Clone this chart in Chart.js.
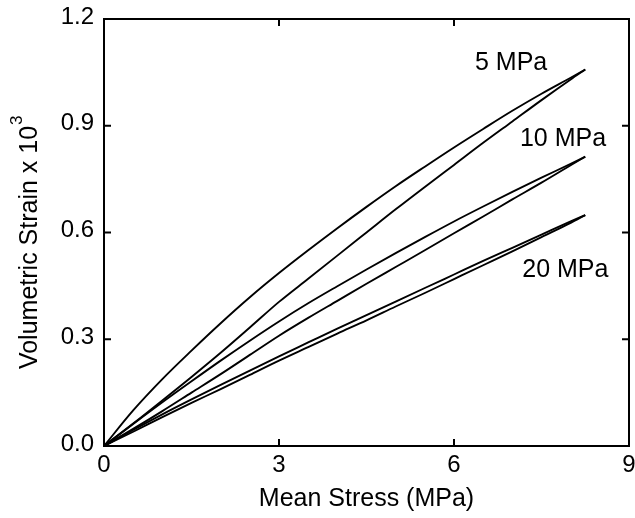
<!DOCTYPE html>
<html>
<head>
<meta charset="utf-8">
<script src="https://cdn.jsdelivr.net/npm/chart.js@4/dist/chart.umd.min.js"></script>
<style>
  html, body { margin: 0; padding: 0; background: #fff; }
  #wrap { width: 635px; height: 518px; position: relative; }
</style>
</head>
<body>
<div id="wrap"><canvas id="strainChart"></canvas></div>
<script>
// Mean stress samples (MPa), shared by every curve
const stress = [0, 0.5, 1, 1.5, 2, 2.5, 3, 3.5, 4, 4.5, 5, 5.5, 6, 6.5, 7, 7.5, 8, 8.25];

// Volumetric strain x 10^3, loading (lower) and unloading (upper) branch for each confining pressure
const load5    = [0, 0.063, 0.128, 0.194, 0.262, 0.333, 0.405, 0.47, 0.535, 0.6, 0.665, 0.728, 0.79, 0.852, 0.912, 0.972, 1.03, 1.058];
const unload5  = [0, 0.1, 0.188, 0.268, 0.345, 0.418, 0.486, 0.55, 0.612, 0.672, 0.73, 0.785, 0.839, 0.891, 0.942, 0.99, 1.035, 1.058];
const load10   = [0, 0.048, 0.098, 0.15, 0.202, 0.256, 0.31, 0.36, 0.408, 0.456, 0.503, 0.55, 0.598, 0.645, 0.693, 0.74, 0.789, 0.813];
const unload10 = [0, 0.062, 0.123, 0.182, 0.24, 0.296, 0.35, 0.401, 0.449, 0.496, 0.542, 0.587, 0.631, 0.673, 0.714, 0.754, 0.793, 0.813];
const load20   = [0, 0.04, 0.081, 0.121, 0.16, 0.2, 0.24, 0.278, 0.316, 0.353, 0.392, 0.43, 0.469, 0.508, 0.547, 0.587, 0.627, 0.649];
const unload20 = [0, 0.045, 0.089, 0.131, 0.172, 0.212, 0.252, 0.291, 0.33, 0.368, 0.406, 0.444, 0.482, 0.52, 0.557, 0.594, 0.631, 0.649];

// Curve labels (text, left x and baseline y in data units)
const curveLabels = [
    { text: '5 MPa',  x: 6.36, y: 1.057 },
    { text: '10 MPa', x: 7.13, y: 0.843 },
    { text: '20 MPa', x: 7.17, y: 0.474 }
];

const xTicks = [0, 3, 6, 9];
const yTicks = [0, 0.3, 0.6, 0.9, 1.2];

const FONT = 'Liberation Sans, Arial, Helvetica, sans-serif';

function toPoints(ys) {
    return stress.map((x, i) => ({ x: x, y: ys[i] }));
}

function curve(ys) {
    return {
        data: toPoints(ys),
        borderColor: '#000',
        borderWidth: 1.9,
        pointRadius: 0,
        fill: false,
        showLine: true,
        cubicInterpolationMode: 'monotone'
    };
}

// frame with inward ticks on all four sides, curve labels, y title with superscript
const framePlugin = {
    id: 'frame',
    afterDraw(chart) {
        const ctx = chart.ctx;
        const a = chart.chartArea;
        const xs = chart.scales.x, ys = chart.scales.y;
        ctx.save();
        ctx.strokeStyle = '#000';
        ctx.lineWidth = 2;
        ctx.strokeRect(a.left, a.top, a.right - a.left, a.bottom - a.top);
        const len = 7;
        ctx.beginPath();
        xTicks.slice(1, -1).forEach(v => {
            const px = xs.getPixelForValue(v);
            ctx.moveTo(px, a.bottom); ctx.lineTo(px, a.bottom - len);
            ctx.moveTo(px, a.top); ctx.lineTo(px, a.top + len);
        });
        yTicks.slice(1, -1).forEach(v => {
            const py = ys.getPixelForValue(v);
            ctx.moveTo(a.left, py); ctx.lineTo(a.left + len, py);
            ctx.moveTo(a.right, py); ctx.lineTo(a.right - len, py);
        });
        ctx.stroke();

        ctx.fillStyle = '#000';
        ctx.font = '25px ' + FONT;
        ctx.textAlign = 'left';
        ctx.textBaseline = 'alphabetic';
        curveLabels.forEach(l => {
            ctx.fillText(l.text, xs.getPixelForValue(l.x), ys.getPixelForValue(l.y));
        });

        // y axis title: "Volumetric Strain x 10" + superscript 3
        const main = 'Volumetric Strain x 10';
        const w = ctx.measureText(main).width;
        const midY = (a.top + a.bottom) / 2 + 10;
        ctx.translate(37, midY);
        ctx.rotate(-Math.PI / 2);
        ctx.fillText(main, -w / 2 - 5, 0);
        ctx.font = '17px ' + FONT;
        ctx.fillText('3', w / 2 - 4, -15);
        ctx.restore();
    }
};

const ctx = document.getElementById('strainChart').getContext('2d');
new Chart(ctx, {
    type: 'scatter',
    data: {
        datasets: [
            curve(load5), curve(unload5),
            curve(load10), curve(unload10),
            curve(load20), curve(unload20)
        ]
    },
    options: {
        responsive: true,
        maintainAspectRatio: false,
        animation: false,
        layout: { padding: { left: 0, top: 19, right: 6, bottom: 0 } },
        plugins: {
            legend: { display: false },
            tooltip: { enabled: false }
        },
        scales: {
            x: {
                type: 'linear',
                min: 0, max: 9,
                afterFit: s => { s.height = 72; s.paddingRight = 0; s.paddingLeft = 0; },
                afterBuildTicks: s => { s.ticks = xTicks.map(v => ({ value: v })); },
                grid: { display: false, drawTicks: false },
                border: { display: false },
                ticks: { color: '#000', padding: 5, font: { size: 24, family: FONT } },
                title: {
                    display: true, text: 'Mean Stress (MPa)', color: '#000',
                    font: { size: 25, family: FONT },
                    padding: { top: 0, bottom: 4 }
                }
            },
            y: {
                type: 'linear',
                min: 0, max: 1.2,
                afterFit: s => { s.width = 104; s.paddingTop = 0; s.paddingBottom = 0; },
                afterBuildTicks: s => { s.ticks = yTicks.map(v => ({ value: v })); },
                grid: { display: false, drawTicks: false },
                border: { display: false },
                ticks: {
                    color: '#000', padding: 10, labelOffset: -2,
                    font: { size: 24, family: FONT },
                    callback: v => v.toFixed(1)
                }
            }
        }
    },
    plugins: [framePlugin]
});
</script>
</body>
</html>
